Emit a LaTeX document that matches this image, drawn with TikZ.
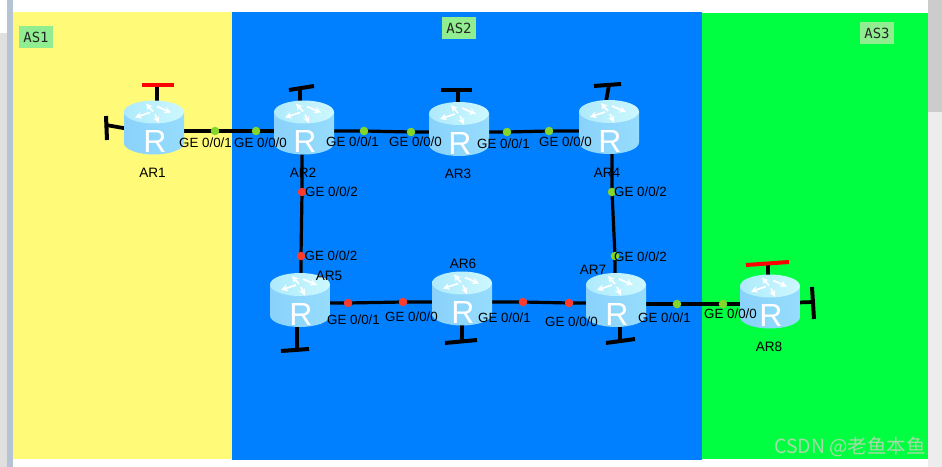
\documentclass[tikz,border=0pt]{standalone}
\usepackage{fontspec}
\setmainfont{Liberation Sans}
\newfontfamily\asfont{DejaVu Sans Mono}
\newfontfamily\cjkfont{Noto Sans CJK SC}
\usetikzlibrary{arrows.meta,calc}
\definecolor{asyellow}{HTML}{FFFB78}
\definecolor{asblue}{HTML}{0080FF}
\definecolor{asgreen}{HTML}{00FF40}
\definecolor{tagbg}{HTML}{90EE90}
\definecolor{dotgreen}{HTML}{84D62A}
\definecolor{dotred}{HTML}{FF3B30}
\definecolor{sideL}{HTML}{8AD2FB}
\definecolor{sideM}{HTML}{B4ECFF}
\definecolor{sideR}{HTML}{96DCFD}
\definecolor{topL}{HTML}{AEEAFB}
\definecolor{topR}{HTML}{CDF8FF}
\definecolor{stripblue}{HTML}{B4C4D4}
\tikzset{
  routerbox/.style={minimum width=45pt,minimum height=40.5pt,inner sep=0pt,outer sep=0pt},
  portdot/.style={circle,minimum size=6.4pt,inner sep=0pt,fill=#1},
  portlbl/.style={font=\fontsize{10}{10}\selectfont,text=black,inner sep=0pt},
  routerlbl/.style={font=\fontsize{10.2}{10.2}\selectfont,text=black,inner sep=0pt},
  astag/.style={fill=tagbg,font=\asfont\fontsize{10.5}{10.5}\selectfont,text=black!85,inner sep=0pt,minimum width=25.5pt,minimum height=16pt},
  linkline/.style={draw=black,line width=2.4pt},
  stemline/.style={draw=black,line width=2.8pt},
  barline/.style={line width=3pt}
}
\newcommand{\routerbody}[1]{%
  \begin{scope}[shift={(#1.center)}]
    \path[left color=sideL,middle color=sideM,right color=sideR]
      (-30,-15.5) -- (-30,15.5) arc[start angle=180,end angle=360,x radius=22.5pt,y radius=8.6pt] -- (30,-15.5) -- cycle;
    \path[left color=topL,right color=topR] (0,-15.5) ellipse[x radius=22.5pt,y radius=8.6pt];
    \begin{scope}[white,line width=1.3pt,>={Stealth[length=5pt,width=5pt]}]
      \draw[->] (-1,-16) -- (-8,-24);
      \draw[->] (3,-21) -- (17,-15);
      \draw[->] (-4,-15) -- (-19,-10);
      \draw[->] (1,-13) -- (5,-4.5);
    \end{scope}
    \node[white,font=\fontsize{24}{24}\selectfont,inner sep=0pt] at (1,14) {R};
  \end{scope}}
% router, stem start (offset from router), stem end, bar end, bar end, bar colour
\newcommand{\tstub}[6]{%
  \coordinate (bara) at (#4);
  \coordinate (barb) at (#5);
  \coordinate (stemend) at (#3);
  \draw[stemline] ([shift={(#2)}]#1.center) -- (stemend);
  \draw[barline,draw=#6] (bara) -- (barb);}
\begin{document}
\begin{tikzpicture}[x=0.75pt,y=-0.75pt]
\useasboundingbox (0,0) rectangle (942,467);
% window surround
\fill[white] (0,0) rectangle (942,467);
\fill[black!12] (0,33) rectangle (7,467);
\fill[black!7] (928,0) rectangle (942,467);
\fill[black!20] (928,0) rectangle (942,112);
\fill[stripblue] (7,0) rectangle (13,467);
% AS zones
\fill[asyellow] (13,12) rectangle (232,459);
\fill[asgreen] (702,13) rectangle (928,459);
\fill[asblue] (232,12) rectangle (702,460);
% routers (anchors)
\node[routerbox] (r1) at (154,127.5) {};
\node[routerbox] (r2) at (304,127.5) {};
\node[routerbox] (r3) at (459,129) {};
\node[routerbox] (r4) at (609,127) {};
\node[routerbox] (r5) at (300,300) {};
\node[routerbox] (r6) at (462,298.5) {};
\node[routerbox] (r7) at (616,300) {};
\node[routerbox] (r8) at (770,301.5) {};
% port dots
\coordinate (d1) at (215,131);
\coordinate (d2) at (256,131);
\coordinate (d3) at (364,131);
\coordinate (d4) at (411,132);
\coordinate (d5) at (507,132);
\coordinate (d6) at (549,131);
\coordinate (d7) at (302,192);
\coordinate (d8) at (301,256);
\coordinate (d9) at (612,192);
\coordinate (d10) at (615,256);
\coordinate (d11) at (348,303);
\coordinate (d12) at (403,302);
\coordinate (d13) at (523,302);
\coordinate (d14) at (569,303);
\coordinate (d15) at (677,304);
\coordinate (d16) at (723,304);
% links
\draw[linkline] (r1.east |- d1) -- (d1) -- (d2) -- (r2.west |- d2);
\draw[linkline] (r2.east |- d3) -- (d3) -- (d4) -- (r3.west |- d4);
\draw[linkline] (r3.east |- d5) -- (d5) -- (d6) -- (r4.west |- d6);
\draw[linkline] (r2.south -| d7) -- (d7) -- (d8) -- (r5.north -| d8);
\draw[linkline] (r4.south -| d9) -- (d9) -- (d10) -- (r7.north -| d10);
\draw[linkline] (r5.east |- d11) -- (d11) -- (d12) -- (r6.west |- d12);
\draw[linkline] (r6.east |- d13) -- (d13) -- (d14) -- (r7.west |- d14);
\draw[linkline] (r7.east |- d15) -- (d15) -- (d16) -- (r8.west |- d16);
% stubs
\tstub{r1}{3,-20}{157,85}{142,85}{174,85}{red}
\tstub{r1}{-28,1}{106,125}{106,116}{107,140}{black}
\tstub{r2}{-4,-20}{300,88}{289,90}{314,86}{black}
\tstub{r3}{-1,-20}{458,90}{441,90}{472,90}{black}
\tstub{r4}{-4,-20}{609,85}{594,86}{621,84}{black}
\tstub{r5}{-3,20}{297,350}{281,351}{309,349}{black}
\tstub{r6}{0,20}{462,342}{445,343}{477,340}{black}
\tstub{r7}{4,20}{620,341}{606,343}{635,339}{black}
\tstub{r8}{-2,-20}{768,264}{746,265}{789,262}{red}
\tstub{r8}{28,1}{813,302}{812,287}{814,319}{black}
% port markers
\foreach \p in {d1,d2,d3,d4,d5,d6,d9,d10,d15,d16}
  \node[portdot=dotgreen] (m\p) at (\p) {};
\foreach \p in {d7,d8,d11,d12,d13,d14}
  \node[portdot=dotred] (m\p) at (\p) {};
% router bodies
\routerbody{r1}\routerbody{r2}\routerbody{r3}\routerbody{r4}
\routerbody{r5}\routerbody{r6}\routerbody{r7}\routerbody{r8}
% router names
\node[routerlbl] (n1) at (152.5,173) {AR1};
\node[routerlbl] (n2) at (303,173) {AR2};
\node[routerlbl] (n3) at (458,174) {AR3};
\node[routerlbl] (n4) at (607,173) {AR4};
\node[routerlbl] (n5) at (329,276) {AR5};
\node[routerlbl] (n6) at (463,264) {AR6};
\node[routerlbl] (n7) at (593,270) {AR7};
\node[routerlbl] (n8) at (769,347) {AR8};
% port labels
\node[portlbl] (p1) at (205.5,143) {GE 0/0/1};
\node[portlbl] (p2) at (260.5,143) {GE 0/0/0};
\node[portlbl] (p3) at (352.5,142) {GE 0/0/1};
\node[portlbl] (p4) at (415.5,142) {GE 0/0/0};
\node[portlbl] (p5) at (503.5,143.5) {GE 0/0/1};
\node[portlbl] (p6) at (565.5,142) {GE 0/0/0};
\node[portlbl] (p7) at (331.5,192) {GE 0/0/2};
\node[portlbl] (p8) at (331,256) {GE 0/0/2};
\node[portlbl] (p9) at (640.5,192) {GE 0/0/2};
\node[portlbl] (p10) at (640.5,257) {GE 0/0/2};
\node[portlbl] (p11) at (353.5,320) {GE 0/0/1};
\node[portlbl] (p12) at (411.5,317) {GE 0/0/0};
\node[portlbl] (p13) at (504.5,318) {GE 0/0/1};
\node[portlbl] (p14) at (571.5,322) {GE 0/0/0};
\node[portlbl] (p15) at (664.5,318) {GE 0/0/1};
\node[portlbl] (p16) at (730.5,314) {GE 0/0/0};
% AS tags
\node[astag] (as1) at (36,37) {AS1};
\node[astag] (as2) at (459,28) {AS2};
\node[astag] (as3) at (877,33) {AS3};
% watermark
\node[font=\cjkfont\fontsize{14.6}{14.6}\selectfont,text=white!78!green!85!black,inner sep=0pt,anchor=east] (wm) at (926,447) {CSDN @老鱼本鱼};
\end{tikzpicture}
\end{document}
